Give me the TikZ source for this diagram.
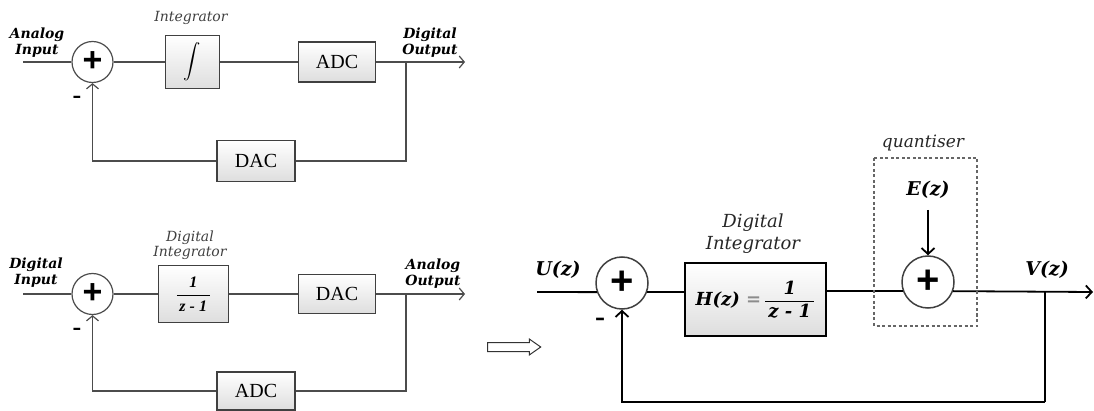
\documentclass[tikz,border=0pt]{standalone}
\usepackage{amsmath}
\usepackage{fontspec}
\setmainfont{Liberation Serif}
\newfontfamily\labelfont{DejaVu Serif}
\newfontfamily\plusfont{Liberation Sans}
\usepackage{tikz}
\usetikzlibrary{shapes.arrows, arrows.meta, positioning, calc}
\usepackage{xcolor}

\begin{document}
\begin{tikzpicture}[
  x=1pt, y=-1pt,
  sigma/.style={
    circle, draw=black!70, line width=1.2pt, minimum size=41pt, inner sep=0pt,
    font=\plusfont\bfseries\fontsize{34}{34}\selectfont
  },
  bigsigma/.style={
    sigma, draw=black!75, line width=1.5pt, minimum size=52pt,
    font=\plusfont\bfseries\fontsize{40}{40}\selectfont
  },
  blk/.style={
    rectangle, draw=black!75, line width=1.3pt, inner sep=0pt,
    top color=white, bottom color=black!13, align=center,
    font=\fontsize{20}{20}\selectfont
  },
  bigblk/.style={
    blk, draw=black, line width=2pt,
    font=\labelfont\bfseries\itshape\fontsize{18}{18}\selectfont
  },
  tag/.style={font=\labelfont\bfseries\itshape\fontsize{14}{16}\selectfont, align=center},
  note/.style={font=\labelfont\itshape\fontsize{14}{15}\selectfont, text=black!75, align=center},
  bignote/.style={font=\labelfont\itshape\fontsize{18}{22}\selectfont, text=black!85, align=center},
  bigtag/.style={font=\labelfont\bfseries\itshape\fontsize{19}{19}\selectfont},
  minus/.style={font=\bfseries\fontsize{26}{26}\selectfont},
  wire/.style={line width=1.2pt, draw=black!70},
  sig/.style={wire, -{Straight Barb[length=5pt,width=12pt]}},
  bigwire/.style={line width=1.8pt, draw=black},
  bigsig/.style={bigwire, -{Straight Barb[length=6pt,width=13pt]}},
  quantbox/.style={draw=black!60, line width=2pt, dash pattern=on 3pt off 2.5pt},
  hollow/.style={single arrow, draw=black!80, line width=1pt, inner sep=4pt,
    minimum height=53pt, single arrow head extend=3.5pt, single arrow tip angle=70}
]
\useasboundingbox (0,0) rectangle (1094,411);

% Analog sigma-delta loop
\coordinate (inA) at (23,62);
\node[sigma] (sumA) at (92.5,62) {+};
\node[blk, minimum width=54pt, minimum height=53pt, right=51pt of sumA] (intA)
  {\fontsize{17}{17}\selectfont$\displaystyle\int$};
\node[blk, minimum width=77pt, minimum height=40pt, right=78pt of intA] (adcA) {ADC};
\coordinate (brA) at (406,62);
\coordinate (outA) at (465,62);
\node[blk, minimum width=78pt, minimum height=41pt] (dacA) at (256,161) {DAC};

\draw[wire] (inA) -- (sumA);
\draw[wire] (sumA) -- (intA);
\draw[wire] (intA) -- (adcA);
\draw[sig] (adcA) -- (outA);
\draw[wire] (brA) |- (dacA);
\draw[sig] (dacA) -| (sumA);

\node[tag] (ainA) at (37,43) {Analog\\Input};
\node[note] (intlblA) at (191,18) {Integrator};
\node[tag] (doutA) at (430,43) {Digital\\Output};
\node[minus] (negA) at (77,100) {-};

% Digital sigma-delta loop
\coordinate (inB) at (23,294);
\node[sigma] (sumB) at (92.5,294) {+};
\node[blk, minimum width=70pt, minimum height=57pt, right=44pt of sumB,
  font=\bfseries\itshape\fontsize{16}{16}\selectfont] (intB)
  {$\displaystyle\frac{\mbox{1}}{\mbox{\,z - 1\,}}$};
\node[blk, minimum width=77pt, minimum height=39pt, right=69pt of intB] (dacB) {DAC};
\coordinate (brB) at (406,294);
\coordinate (outB) at (465,294);
\node[blk, minimum width=78pt, minimum height=38pt] (adcB) at (256,391) {ADC};

\draw[wire] (inB) -- (sumB);
\draw[wire] (sumB) -- (intB);
\draw[wire] (intB) -- (dacB);
\draw[sig] (dacB) -- (outB);
\draw[wire] (brB) |- (adcB);
\draw[sig] (adcB) -| (sumB);

\node[tag] (dinB) at (36,272.5) {Digital\\Input};
\node[note] (intlblB) at (190,245.5) {Digital\\Integrator};
\node[tag] (aoutB) at (433,274) {Analog\\Output};
\node[minus] (negB) at (77,332) {-};

% Equivalence arrow
\node[hollow] (impl) at (511,347) {};

% Linear model with quantiser
\coordinate (inC) at (537,292);
\node[bigsigma] (sumC) at (622,283) {+};
\node[bigblk, minimum width=141pt, minimum height=73pt] (hC) at (755.5,299.5)
  {H(z) \textcolor{black!45}{=}\,$\displaystyle\frac{\mbox{1}}{\mbox{\,z - 1\,}}$};
\node[bigsigma] (sumD) at (928,282) {+};
\coordinate (eC) at (928,210);
\coordinate (brC) at (1045,292);
\coordinate (outC) at (1093,292);
\coordinate (fbC) at (1045,402);

\draw[bigwire] (inC) -- (sumC.200);
\draw[bigwire] (sumC.-20) -- (sumC.-20 -| hC.west);
\draw[bigwire] (hC.east |- sumD.200) -- (sumD.200);
\draw[bigsig] (sumD.-20) -- (outC);
\draw[bigsig] (eC) -- (sumD);
\draw[bigwire] (brC) -- (fbC);
\draw[bigsig] (fbC) -| (sumC);

\draw[quantbox] (874,158) rectangle (977,326);

\node[bigtag] (uC) at (558,270) {U(z)};
\node[bigtag] (vC) at (1047,270) {V(z)};
\node[bigtag] (eLbl) at (928,190) {E(z)};
\node[bignote] (hlbl) at (753,234) {Digital\\Integrator};
\node[bignote, font=\labelfont\itshape\fontsize{17}{17}\selectfont] (qlbl) at (923,143) {quantiser};
\node[minus, font=\bfseries\fontsize{30}{30}\selectfont] (negC) at (600,322) {-};

\end{tikzpicture}
\end{document}
